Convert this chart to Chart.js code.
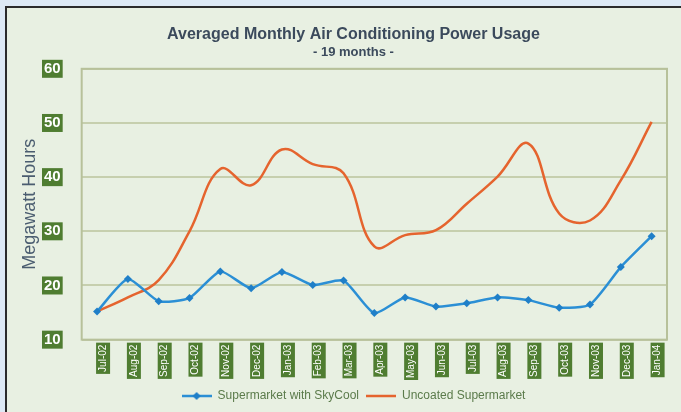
<!DOCTYPE html>
<html>
<head>
<meta charset="utf-8">
<script src="https://cdn.jsdelivr.net/npm/chart.js@4.4.1/dist/chart.umd.min.js"></script>
<style>
  html, body { margin: 0; padding: 0; background: #dde9f5; overflow: hidden; }
  #panel {
    position: absolute; left: 5px; top: 6px; width: 700px; height: 430px;
    background: #e8f0e2; border: 2px solid #2b2b2b;
  }
  #wrap { position: absolute; left: 0; top: 0; width: 681px; height: 412px; }
</style>
</head>
<body>
<div id="panel"></div>
<div id="wrap"><canvas id="acChart" width="681" height="412"></canvas></div>
<script>
// Months on the x axis
const months = ['Jul-02', 'Aug-02', 'Sep-02', 'Oct-02', 'Nov-02', 'Dec-02', 'Jan-03', 'Feb-03', 'Mar-03', 'Apr-03',
  'May-03', 'Jun-03', 'Jul-03', 'Aug-03', 'Sep-03', 'Oct-03', 'Nov-03', 'Dec-03', 'Jan-04'];

// Megawatt hours per month
const skyCool = [15.2, 21.2, 17.1, 17.7, 22.6, 19.5, 22.5, 20.1, 20.9, 14.9, 17.8, 16.1, 16.7, 17.8, 17.3, 15.9, 16.5, 23.4, 29.1];
const uncoated = [15.2, 17.8, 21, 30, 41.5, 38.5, 45.1, 42.4, 40.7, 27.2, 29.3, 30.2, 35.1, 40.1, 46.2, 33.3, 32, 39.4, 50.2];

const yTicks = [10, 20, 30, 40, 50, 60];

const BLUE = '#2b8fd5';
const ORANGE = '#e5642e';
const GREEN = '#4f7d31';
const FONT = '"Liberation Sans", Arial, sans-serif';

// little legend swatches: line with a diamond, plain line
function swatch(color, marker) {
  const c = document.createElement('canvas');
  c.width = 30; c.height = 10;
  const g = c.getContext('2d');
  g.strokeStyle = color;
  g.lineWidth = 2.5;
  g.beginPath(); g.moveTo(0, 5); g.lineTo(30, 5); g.stroke();
  if (marker) {
    g.fillStyle = '#1f7fc8';
    g.beginPath(); g.moveTo(15, 1); g.lineTo(19, 5); g.lineTo(15, 9); g.lineTo(11, 5); g.closePath(); g.fill();
  }
  return c;
}
const swatches = [swatch(BLUE, true), swatch(ORANGE, false)];

// outline round the plot area
const plotFrame = {
  id: 'plotFrame',
  beforeDatasetsDraw(chart) {
    const { ctx, chartArea: a } = chart;
    ctx.save();
    ctx.strokeStyle = '#b7c19a';
    ctx.lineWidth = 2;
    ctx.strokeRect(a.left, a.top, a.right - a.left, a.bottom - a.top);
    ctx.restore();
  }
};

new Chart(document.getElementById('acChart'), {
  type: 'line',
  data: {
    labels: months,
    datasets: [{
      label: 'Supermarket with SkyCool',
      data: skyCool,
      borderColor: BLUE,
      backgroundColor: '#1f7fc8',
      borderWidth: 2.5,
      pointStyle: 'rectRot',
      pointRadius: 4,
      pointBorderWidth: 0,
      tension: 0.2
    }, {
      label: 'Uncoated Supermarket',
      data: uncoated,
      borderColor: ORANGE,
      backgroundColor: ORANGE,
      borderWidth: 2.5,
      pointRadius: 0,
      tension: 0.4
    }]
  },
  options: {
    responsive: false,
    animation: false,
    // extra left padding shifts the centred title and legend; the y title claws it back
    layout: { padding: { left: 40, right: 14, top: 0, bottom: 0 } },
    plugins: {
      title: {
        display: true,
        text: 'Averaged Monthly Air Conditioning Power Usage',
        color: '#3b4a5c',
        font: { family: FONT, size: 16, weight: 'bold' },
        padding: { top: 25, bottom: 0 }
      },
      subtitle: {
        display: true,
        text: '- 19 months -',
        color: '#3b4a5c',
        font: { family: FONT, size: 13, weight: 'bold' },
        padding: { top: 0, bottom: 9 }
      },
      legend: {
        position: 'bottom',
        labels: {
          color: '#5b7b4b',
          font: { family: FONT, size: 12 },
          usePointStyle: true,
          pointStyleWidth: 30,
          boxHeight: 10,
          padding: 7,
          generateLabels(chart) {
            const items = Chart.defaults.plugins.legend.labels.generateLabels(chart);
            items.forEach((it, i) => { it.pointStyle = swatches[i]; });
            return items;
          }
        }
      },
      tooltip: { enabled: false }
    },
    scales: {
      x: {
        offset: true,
        grid: { display: false, drawTicks: false },
        border: { display: false },
        ticks: {
          autoSkip: false,
          minRotation: 90,
          maxRotation: 90,
          padding: 5,
          color: '#ffffff',
          font: { family: FONT, size: 10 },
          showLabelBackdrop: true,
          backdropColor: GREEN,
          backdropPadding: { top: 1, bottom: 1, left: 2, right: 2 }
        }
      },
      y: {
        min: 10,
        max: 60,
        afterBuildTicks(axis) { axis.ticks = yTicks.map(v => ({ value: v })); },
        grid: { color: '#c6cfae', lineWidth: 2, drawTicks: false },
        border: { display: false },
        title: {
          display: true,
          text: 'Megawatt Hours',
          color: '#4b5d70',
          font: { family: FONT, size: 18 },
          padding: { top: -20.8, bottom: -17.8 }
        },
        ticks: {
          padding: 21,
          color: '#ffffff',
          font: { family: FONT, size: 15, weight: 'bold' },
          showLabelBackdrop: true,
          backdropColor: GREEN,
          backdropPadding: { top: 0, bottom: 0, left: 2, right: 2 }
        }
      }
    }
  },
  plugins: [plotFrame]
});
</script>
</body>
</html>
